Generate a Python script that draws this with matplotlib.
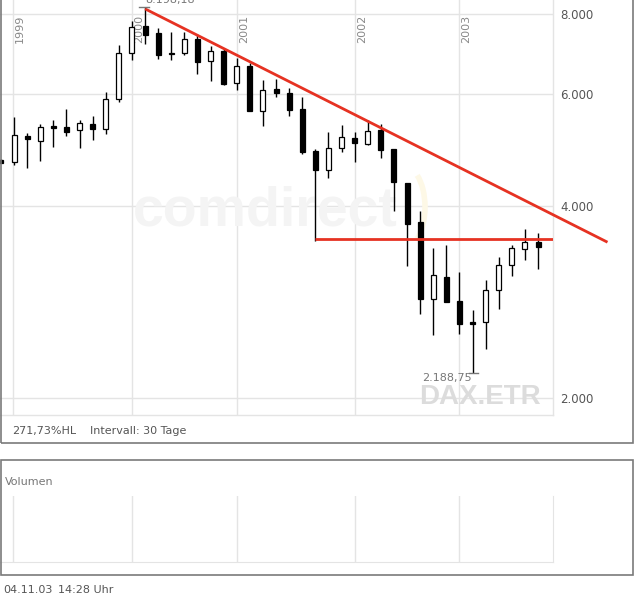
import matplotlib
matplotlib.use("Agg")
import matplotlib.pyplot as plt
from matplotlib.patches import Rectangle, Arc
from matplotlib.ticker import FixedLocator, NullLocator, FuncFormatter

W, H = 634, 597

# -------------------------
#  DATEN (DAX, Kerzen)
# -------------------------
opens = [4723, 4689, 5150, 5058, 5339, 5320, 5263, 5379, 5282, 5886,
         6949, 7661, 7470, 6949, 6949, 7310, 6752, 6999, 6236, 6631,
         5636, 6103, 6015, 5677, 4879, 4555, 4932, 5113, 5003, 5263,
         4914, 4347, 3776, 2859, 3096, 2839, 2631, 2631, 2954, 3233,
         3425, 3513]
highs = [4735, 5516, 5206, 5379, 5456, 5677, 5456, 5536, 6037, 7153,
         7800, 8198.18, 7606, 7497, 7497, 7443, 7127, 7050, 6825, 6704,
         6304, 6327, 6125, 5928, 4914, 5225, 5359, 5225, 5456, 5379,
         4914, 4347, 3928, 3437, 3475, 3152, 2748, 3062, 3327, 3475,
         3681, 3629]
lows = [4665, 4639, 4588, 4706, 4949, 5150, 4932, 5076, 5188, 5823,
        6776, 7179, 6801, 6776, 6899, 6442, 6281, 6191, 6081, 5636,
        5339, 5928, 5536, 4826, 3525, 4425, 4861, 4689, 4985, 4757,
        3928, 3221, 2708, 2511, 2828, 2520, 2188.75, 2387, 2758, 3107,
        3291, 3186]
closes = [4672, 5169, 5095, 5320, 5301, 5225, 5398, 5282, 5886, 6949,
          7634, 7417, 6899, 6924, 7310, 6728, 6999, 6214, 6631, 5636,
          6081, 6015, 5657, 4861, 4555, 4932, 5131, 5021, 5244, 4896,
          4362, 3748, 2859, 3118, 2828, 2612, 2612, 2954, 3233, 3437,
          3513, 3450]

year_labels = ["1999", "2000", "2001", "2002", "2003"]
year_pos = [0.92, 10.0, 18.0, 27.0, 35.0]
price_ticks = [2000, 4000, 6000, 8000]

support_level = 3548
support_start = 24
trend_x = [11, 46.3]
trend_y = [8150, 3510]

high_idx, high_label = 11, "8.198,18"
low_idx, low_label = 36, "2.188,75"

RED = "#e63222"
GRID = "#e4e4e4"
TXT = "#555555"


def fx(px):
    return px / W


def fy(py):
    return 1 - py / H


fig = plt.figure(figsize=(W / 100, H / 100), dpi=100)
fig.patch.set_facecolor("white")

# -------------------------
#  HAUPTCHART
# -------------------------
ax = fig.add_axes([fx(0), fy(415), fx(553), 415 / H])
ax.set_yscale("log")
ax.set_xlim(-0.076, 42.14)
ax.set_ylim(1881, 8415)

for p in year_pos:
    ax.axvline(p, color=GRID, lw=1, zorder=0)
for t in price_ticks:
    ax.axhline(t, color=GRID, lw=1, zorder=0)

for s in ["top", "left"]:
    ax.spines[s].set_visible(False)
for s in ["bottom", "right"]:
    ax.spines[s].set_color(GRID)
    ax.spines[s].set_linewidth(1)

ax.xaxis.set_major_locator(NullLocator())
ax.xaxis.set_minor_locator(NullLocator())
ax.yaxis.tick_right()
ax.yaxis.set_major_locator(FixedLocator(price_ticks))
ax.yaxis.set_minor_locator(NullLocator())
ax.yaxis.set_major_formatter(FuncFormatter(lambda v, _: f"{v:,.0f}".replace(",", ".")))
ax.tick_params(axis="y", length=0, pad=5, labelsize=8.5, labelcolor=TXT)

# Wasserzeichen
ax.text(fx(133), fy(225), "comdirect", transform=fig.transFigure, fontsize=40,
        fontweight="bold", family="Liberation Sans", color="#f4f4f4", zorder=0.5)
ax.add_artist(Arc((fx(405), fy(207)), fx(40), 80 / H, theta1=-70, theta2=70,
                  transform=fig.transFigure, color="#fdf8e6", lw=4, zorder=0.5))
ax.text(fx(541), fy(404), "DAX.ETR", transform=fig.transFigure, fontsize=20,
        fontweight="bold", family="Liberation Sans", color="#dcdcdc",
        ha="right", va="baseline", zorder=0.5)

# Jahreslabels
for p, lab in zip(year_pos, year_labels):
    ax.annotate(lab, xy=(p, 1), xycoords=("data", "axes fraction"), xytext=(2, -15),
                textcoords="offset pixels", rotation=90, ha="left", va="top",
                fontsize=8, color="#888888")

# Kerzen
xs = list(range(len(opens)))
ax.vlines(xs, lows, highs, color="black", lw=1, zorder=2)
for i in xs:
    o, c = opens[i], closes[i]
    face = "white" if c > o else "black"
    ax.bar(i, abs(c - o), bottom=min(o, c), width=0.38, color=face,
           edgecolor="black", linewidth=0.9, zorder=3)

# Trendlinien
ax.plot(trend_x, trend_y, color=RED, lw=2, clip_on=False, zorder=4,
        solid_capstyle="butt")
ax.hlines(support_level, support_start, 42.14, color=RED, lw=2, zorder=4)

# Hoch / Tief Markierungen
ax.plot([high_idx - 0.45, high_idx + 0.3], [highs[high_idx]] * 2, color="#777777",
        lw=1, clip_on=False, zorder=4)
fig.text(fx(145), fy(3), high_label, fontsize=8, color="#777777", va="baseline")
ax.plot([low_idx - 0.25, low_idx + 0.45], [lows[low_idx]] * 2, color="#777777",
        lw=1, zorder=4)
ax.annotate(low_label, xy=(low_idx, lows[low_idx]), xytext=(-1, -5),
            textcoords="offset pixels", ha="right", va="center",
            fontsize=8, color="#777777")

# -------------------------
#  VOLUMEN
# -------------------------
axv = fig.add_axes([fx(0), fy(562), fx(553), (562 - 496) / H])
axv.set_xlim(-0.076, 42.14)
axv.set_ylim(0, 1)
for p in year_pos:
    axv.axvline(p, color=GRID, lw=1, zorder=0)
for s in ["top", "left"]:
    axv.spines[s].set_visible(False)
for s in ["bottom", "right"]:
    axv.spines[s].set_color(GRID)
axv.set_xticks([])
axv.set_yticks([])

# Rahmen
fig.add_artist(Rectangle((fx(0.5), fy(443)), fx(632.5), 1.05 - fy(443),
                         transform=fig.transFigure, fill=False,
                         edgecolor="#7a7a7a", lw=1.2))
fig.add_artist(Rectangle((fx(0.5), fy(575)), fx(632.5), (575 - 460) / H,
                         transform=fig.transFigure, fill=False,
                         edgecolor="#7a7a7a", lw=1.2))

# Texte
fig.text(fx(12), fy(431), "271,73%HL", fontsize=8, color=TXT, va="center")
fig.text(fx(90), fy(431), "Intervall: 30 Tage", fontsize=8, color=TXT, va="center")
fig.text(fx(5), fy(482), "Volumen", fontsize=8, color="#777777", va="center")
fig.text(fx(3), fy(590), "04.11.03", fontsize=8, color=TXT, va="center")
fig.text(fx(58), fy(590), "14:28 Uhr", fontsize=8, color=TXT, va="center")

fig.savefig("out.png", dpi=100)
